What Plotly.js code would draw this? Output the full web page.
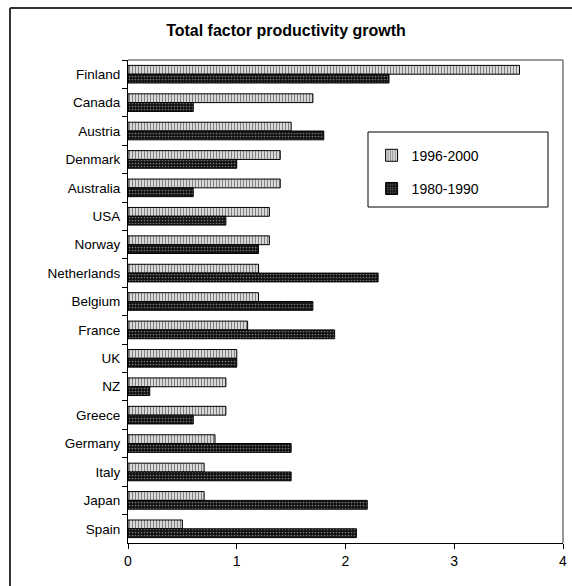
<!DOCTYPE html>
<html>
<head>
<meta charset="utf-8">
<script src="https://cdn.plot.ly/plotly-3.0.1.min.js"></script>
<style>
html,body{margin:0;padding:0;background:#fff;}
#chart{width:572px;height:586px;}
</style>
</head>
<body>
<div id="chart"></div>
<script>
var countries = ["Finland","Canada","Austria","Denmark","Australia","USA","Norway","Netherlands","Belgium","France","UK","NZ","Greece","Germany","Italy","Japan","Spain"];
var tfp1996_2000 = [3.6,1.7,1.5,1.4,1.4,1.3,1.3,1.2,1.2,1.1,1.0,0.9,0.9,0.8,0.7,0.7,0.5];
var tfp1980_1990 = [2.4,0.6,1.8,1.0,0.6,0.9,1.2,2.3,1.7,1.9,1.0,0.2,0.6,1.5,1.5,2.2,2.1];
var xTicks = [0,1,2,3,4];

var font = "Arial, 'Liberation Sans', sans-serif";

var traces = [
  {
    type: "bar", orientation: "h", name: "1996-2000",
    y: countries, x: tfp1996_2000, legendgroup: "a",
    marker: {color: "#c8c8c8", line: {color: "#000", width: 1},
      pattern: {shape: "|", fgcolor: "#808080", bgcolor: "#d8d8d8", size: 3, solidity: 0.35}}
  },
  {
    type: "bar", orientation: "h", name: "1980-1990",
    y: countries, x: tfp1980_1990, legendgroup: "b",
    marker: {color: "#111", line: {color: "#000", width: 1},
      pattern: {shape: ".", fgcolor: "#777", bgcolor: "#111", size: 3, solidity: 0.25}}
  }
];

var layout = {
  width: 572, height: 586,
  margin: {l: 128, r: 9, t: 60, b: 43},
  paper_bgcolor: "#fff", plot_bgcolor: "#fff",
  font: {family: font, size: 13.5, color: "#000"},
  title: {text: "<b>Total factor productivity growth</b>", font: {family: font, size: 16, color: "#000"},
    x: 0.5, xref: "container", y: 1 - 30/586, yref: "container", yanchor: "middle"},
  barmode: "group", bargap: 0.38, bargroupgap: 0,
  showlegend: true,
  legend: {x: 0.56, y: 0.835, xanchor: "left", yanchor: "top", bgcolor: "rgba(0,0,0,0)",
    borderwidth: 0, traceorder: "grouped", tracegroupgap: 12, font: {family: font, size: 14, color: "#000"}},
  xaxis: {range: [0, 4], tickvals: xTicks, ticktext: xTicks.map(String), showgrid: false, zeroline: false,
    showline: true, linecolor: "#000", linewidth: 1, ticks: "outside", ticklen: 5, tickcolor: "#000",
    tickfont: {family: font, size: 14, color: "#000"}, fixedrange: true},
  yaxis: {autorange: "reversed", type: "category", showgrid: false, zeroline: false,
    showline: true, linecolor: "#000", linewidth: 1, ticks: "outside", ticklen: 5, tickcolor: "#000",
    tickson: "boundaries", ticklabelstandoff: 4, tickfont: {family: font, size: 13.5, color: "#000"}, fixedrange: true},
  shapes: [
    {type: "line", xref: "paper", yref: "paper", x0: 0, x1: 1, y0: 1, y1: 1, line: {color: "#999", width: 2}},
    {type: "line", xref: "paper", yref: "paper", x0: 1, x1: 1, y0: 0, y1: 1, line: {color: "#999", width: 2}},
    {type: "rect", xref: "paper", yref: "paper", x0: (368-128)/435, x1: (548-128)/435,
      y0: (543-207)/483, y1: (543-132)/483, line: {color: "#000", width: 1}},
    {type: "line", xref: "paper", yref: "paper", x0: (10-128)/435, x1: 1.2, y0: (543-8)/483, y1: (543-8)/483, line: {color: "#333", width: 2}},
    {type: "line", xref: "paper", yref: "paper", x0: (10-128)/435, x1: (10-128)/435, y0: -0.2, y1: (543-8)/483, line: {color: "#333", width: 2}}
  ]
};

Plotly.newPlot("chart", traces, layout, {displayModeBar: false, staticPlot: true});
</script>
</body>
</html>
